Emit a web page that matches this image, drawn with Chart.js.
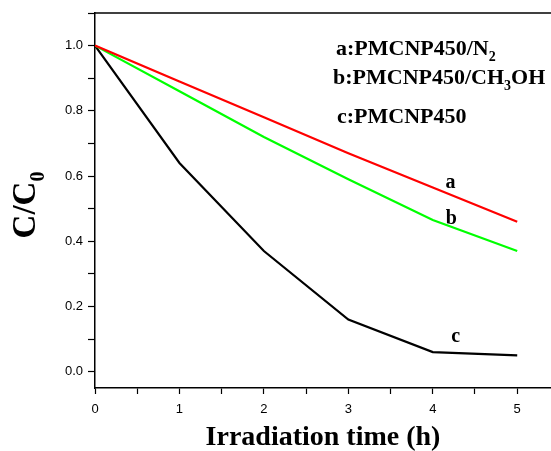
<!DOCTYPE html>
<html>
<head>
<meta charset="utf-8">
<script src="https://cdn.jsdelivr.net/npm/chart.js@4"></script>
<style>
  body { margin: 0; background: #fff; }
</style>
</head>
<body>
<canvas id="chart" width="551" height="451"></canvas>
<script>
// irradiation time (h)
const times = [0, 1, 2, 3, 4, 5];
// C/C0 for each sample
const seriesA = [1.0, 0.89, 0.78, 0.67, 0.565, 0.46];   // PMCNP450/N2
const seriesB = [1.0, 0.86, 0.72, 0.59, 0.465, 0.37];   // PMCNP450/CH3OH
const seriesC = [1.0, 0.64, 0.37, 0.16, 0.06, 0.05];    // PMCNP450

const serif = '"Liberation Serif", "Times New Roman", serif';

function toPoints(vals) {
    return times.map((t, i) => ({ x: t, y: vals[i] }));
}

// draws text pieces, some as subscripts
function drawRich(ctx, parts, x, y, size) {
    let cx = x;
    parts.forEach(p => {
        const sub = p[1];
        ctx.font = 'bold ' + (sub ? Math.round(size * 0.62) : size) + 'px ' + serif;
        ctx.fillText(p[0], cx, sub ? y + size * 0.28 : y);
        cx += ctx.measureText(p[0]).width;
    });
}

const extras = {
    id: 'extras',
    afterDraw(chart) {
        const ctx = chart.ctx;
        const area = chart.chartArea;
        const xs = chart.scales.x, ys = chart.scales.y;
        ctx.save();
        // top frame line
        ctx.strokeStyle = '#000';
        ctx.lineWidth = 1.5;
        ctx.beginPath();
        ctx.moveTo(area.left, area.top);
        ctx.lineTo(area.right, area.top);
        ctx.stroke();

        ctx.fillStyle = '#000';
        ctx.textAlign = 'left';
        ctx.textBaseline = 'alphabetic';

        // y axis title C/C0
        ctx.save();
        ctx.translate(24, 205);
        ctx.rotate(-Math.PI / 2);
        ctx.font = 'bold 33px ' + serif;
        const w1 = ctx.measureText('C/C').width;
        ctx.font = 'bold 20px ' + serif;
        const w2 = ctx.measureText('0').width;
        drawRich(ctx, [['C/C', false], ['0', true]], -(w1 + w2) / 2, 11, 33);
        ctx.restore();

        // key text
        drawRich(ctx, [['a:PMCNP450/N', false], ['2', true]], 336, 55, 22);
        drawRich(ctx, [['b:PMCNP450/CH', false], ['3', true], ['OH', false]], 333, 84, 22);
        drawRich(ctx, [['c:PMCNP450', false]], 337, 123, 22);

        // curve letters
        ctx.font = 'bold 20px ' + serif;
        ctx.textAlign = 'center';
        ctx.textBaseline = 'middle';
        ctx.fillText('a', xs.getPixelForValue(4.21), ys.getPixelForValue(0.58));
        ctx.fillText('b', xs.getPixelForValue(4.22), ys.getPixelForValue(0.47));
        ctx.fillText('c', xs.getPixelForValue(4.27), ys.getPixelForValue(0.107));
        ctx.restore();
    }
};

new Chart(document.getElementById('chart').getContext('2d'), {
    type: 'line',
    data: {
        datasets: [
            { label: 'a', data: toPoints(seriesA), borderColor: '#ff0000', borderWidth: 2.2 },
            { label: 'b', data: toPoints(seriesB), borderColor: '#00ff00', borderWidth: 2.2 },
            { label: 'c', data: toPoints(seriesC), borderColor: '#000000', borderWidth: 2.2 }
        ]
    },
    options: {
        responsive: false,
        animation: false,
        layout: { padding: { left: 0, top: 13, right: 0, bottom: 0 } },
        elements: { point: { radius: 0 }, line: { tension: 0 } },
        plugins: { legend: { display: false }, tooltip: { enabled: false } },
        scales: {
            x: {
                type: 'linear',
                min: 0,
                max: 5.4,
                afterFit: s => { s.height = 63; },
                border: { display: true, color: '#000', width: 1.5 },
                grid: { drawOnChartArea: false, drawTicks: true, tickLength: 6, color: '#000', tickWidth: 1.2 },
                ticks: {
                    stepSize: 0.5,
                    includeBounds: false,
                    autoSkip: false,
                    maxRotation: 0,
                    padding: 8,
                    color: '#000',
                    font: { family: '"Liberation Sans", Arial, sans-serif', size: 13 },
                    callback: v => (Math.abs(v - Math.round(v)) < 1e-6 ? String(Math.round(v)) : '')
                },
                title: {
                    display: true,
                    text: 'Irradiation time (h)',
                    color: '#000',
                    padding: { top: 0, bottom: -4 },
                    font: { family: serif, size: 28, weight: 'bold' }
                }
            },
            y: {
                min: -0.05,
                max: 1.1,
                afterFit: s => { s.width = 95; },
                border: { display: true, color: '#000', width: 1.5 },
                grid: { drawOnChartArea: false, drawTicks: true, tickLength: 7, color: '#000', tickWidth: 1.2 },
                ticks: {
                    stepSize: 0.1,
                    includeBounds: false,
                    autoSkip: false,
                    padding: 5,
                    color: '#000',
                    font: { family: '"Liberation Sans", Arial, sans-serif', size: 13 },
                    callback: v => {
                        const n = Math.round(v * 10);
                        return n % 2 === 0 ? (n / 10).toFixed(1) : '';
                    }
                }
            }
        }
    },
    plugins: [extras]
});
</script>
</body>
</html>
